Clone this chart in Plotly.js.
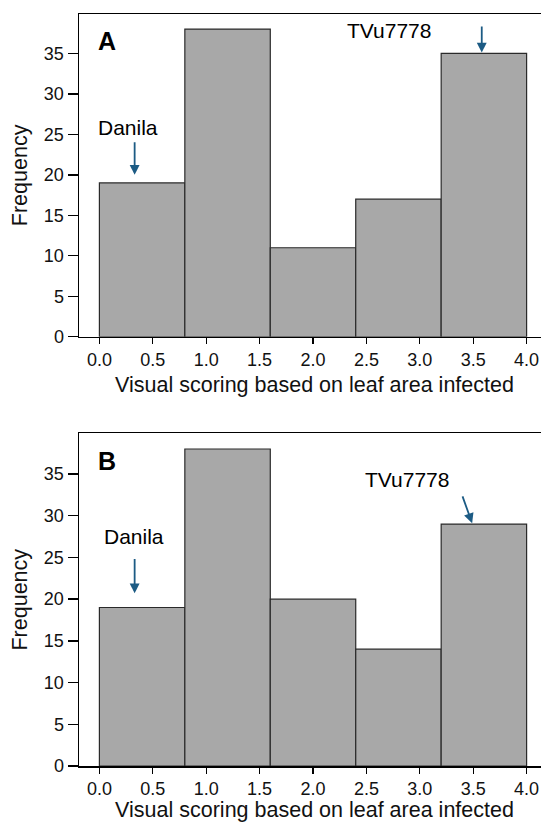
<!DOCTYPE html>
<html>
<head>
<meta charset="utf-8">
<script src="https://cdn.plot.ly/plotly-3.0.1.min.js"></script>
<style>
html, body { margin: 0; padding: 0; overflow: hidden; background: #fff; }
#chart { width: 550px; height: 822px; }
</style>
</head>
<body>
<div id="chart"></div>
<script>
// Data
const binCenters = [0.4, 1.2, 2.0, 2.8, 3.6];
const binWidth = 0.8;
const freqA = [19, 38, 11, 17, 35];
const freqB = [19, 38, 20, 14, 29];
const xTickVals = [0, 0.5, 1.0, 1.5, 2.0, 2.5, 3.0, 3.5, 4.0];
const xTickText = ["0.0", "0.5", "1.0", "1.5", "2.0", "2.5", "3.0", "3.5", "4.0"];
const yTickVals = [0, 5, 10, 15, 20, 25, 30, 35];
const panelLabels = ["A", "B"];
const cultivarLabels = ["Danila", "TVu7778"];
const xTitle = "Visual scoring based on leaf area infected";
const yTitle = "Frequency";

const FONT = "Liberation Sans, Arial, Helvetica, sans-serif";
const barColor = "#a8a8a8";
const edgeColor = "#2a2a2a";
const arrowColor = "#1c5b84";

function barTrace(y, xa, ya) {
  return {
    type: "bar", x: binCenters, y: y, width: binWidth,
    xaxis: xa, yaxis: ya,
    marker: { color: barColor, line: { color: edgeColor, width: 1.2 } },
    hoverinfo: "x+y", showlegend: false
  };
}

const traces = [barTrace(freqA, "x", "y"), barTrace(freqB, "x2", "y2")];

function xAxis(anchor, standoff) {
  return {
    anchor: anchor, range: [-0.191, 4.219], tickmode: "array",
    tickvals: xTickVals, ticktext: xTickText,
    ticks: "outside", ticklen: 6, tickwidth: 1.3, tickcolor: "#000",
    showline: true, linecolor: "#000", linewidth: 1.5, mirror: true,
    showgrid: false, zeroline: false,
    tickfont: { family: FONT, size: 18, color: "#111" },
    title: { text: xTitle, font: { family: FONT, size: 21.5, color: "#111" }, standoff: standoff },
    automargin: false, fixedrange: true
  };
}
function yAxis(anchor, domain) {
  return {
    anchor: anchor, domain: domain, range: [0, 39.86], tickmode: "array",
    tickvals: yTickVals,
    ticks: "outside", ticklen: 10, tickwidth: 1.3, tickcolor: "#000",
    showline: true, linecolor: "#000", linewidth: 1.5, mirror: true,
    showgrid: false, zeroline: false,
    tickfont: { family: FONT, size: 18, color: "#111" },
    title: { text: yTitle, font: { family: FONT, size: 21.5, color: "#111" }, standoff: 10 },
    automargin: false, fixedrange: true
  };
}

function textAnn(text, xref, yref, x, y, size, bold) {
  return {
    text: bold ? "<b>" + text + "</b>" : text, xref: xref, yref: yref, x: x, y: y,
    showarrow: false, xanchor: "center", yanchor: "middle",
    font: { family: FONT, size: size, color: "#000" }
  };
}
function arrowAnn(xref, yref, x, y, ax, ay) {
  return {
    text: "", xref: xref, yref: yref, x: x, y: y,
    axref: xref, ayref: yref, ax: ax, ay: ay,
    showarrow: true, arrowhead: 2, arrowsize: 1.1, arrowwidth: 1.8,
    arrowcolor: arrowColor, standoff: 0, startstandoff: 0
  };
}

const annotations = [
  // Panel A
  textAnn(panelLabels[0], "x", "y", 0.074, 36.5, 25, true),
  textAnn(cultivarLabels[0], "x", "y", 0.27, 25.9, 21, false),
  arrowAnn("x", "y", 0.33, 20.0, 0.33, 24.2),
  textAnn(cultivarLabels[1], "x", "y", 2.71, 37.8, 21, false),
  arrowAnn("x", "y", 3.58, 35.1, 3.58, 38.5),
  // Panel B
  textAnn(panelLabels[1], "x2", "y2", 0.074, 36.5, 25, true),
  textAnn(cultivarLabels[0], "x2", "y2", 0.32, 27.5, 21, false),
  arrowAnn("x2", "y2", 0.33, 20.7, 0.33, 25.0),
  textAnn(cultivarLabels[1], "x2", "y2", 2.88, 34.4, 21, false),
  arrowAnn("x2", "y2", 3.49, 29.1, 3.395, 32.5)
];

const layout = {
  width: 550, height: 822,
  margin: { l: 79, r: 0, t: 14, b: 56.3 },
  paper_bgcolor: "#fff", plot_bgcolor: "#fff",
  bargap: 0,
  xaxis: xAxis("y", 8),
  yaxis: yAxis("x", [0.5707, 1]),
  xaxis2: xAxis("y2", 12),
  yaxis2: yAxis("x2", [0, 0.4422]),
  annotations: annotations,
  font: { family: FONT }
};

Plotly.newPlot("chart", traces, layout, { displayModeBar: false, staticPlot: true });
</script>
</body>
</html>
